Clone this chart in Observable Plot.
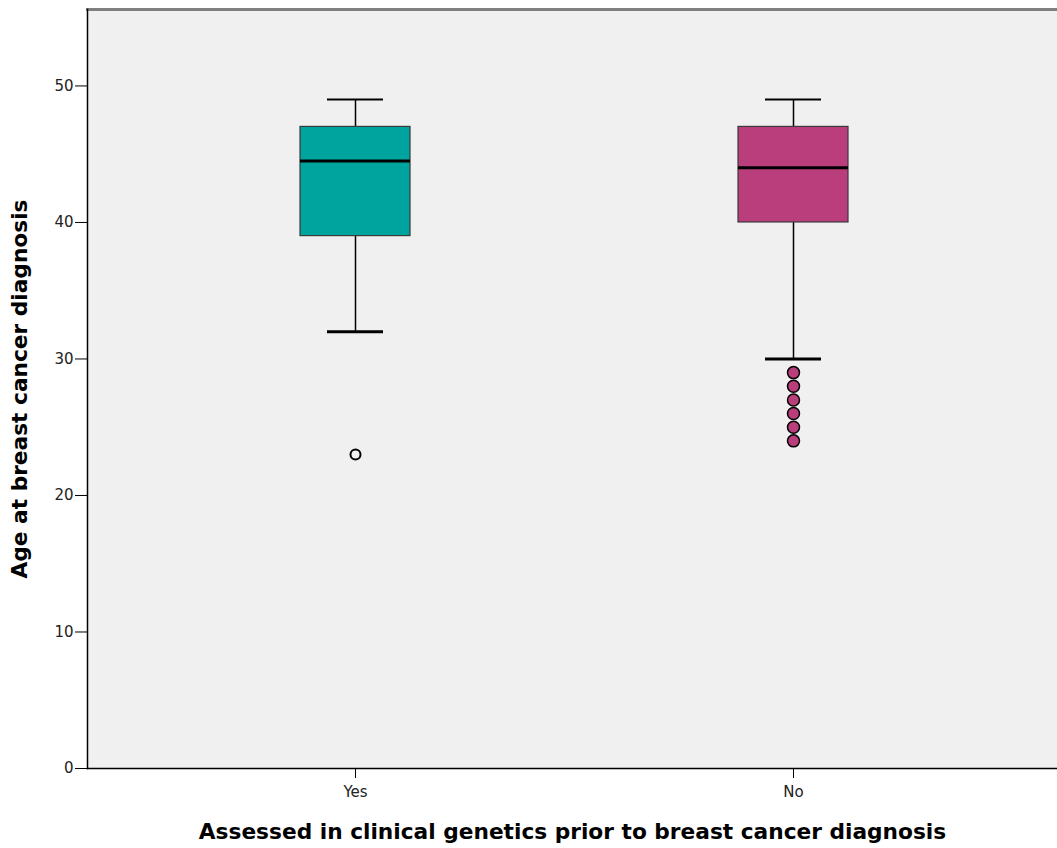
<!DOCTYPE html>
<html>
<head>
<meta charset="utf-8">
<script src="https://cdn.jsdelivr.net/npm/d3@7"></script>
<script src="https://cdn.jsdelivr.net/npm/@observablehq/plot@0.6"></script>
<style>
  html, body { margin: 0; padding: 0; background: #ffffff; }
  #chart svg { display: block; }
</style>
</head>
<body>
<div id="chart"></div>
<script>
// ---- data ----
const groups = ["Yes", "No"];
const q1 = [39, 40];
const median = [44.5, 44];
const q3 = [47, 47];
const whiskerLow = [32, 30];
const whiskerHigh = [49, 49];
const outlierGroup = ["Yes", "No", "No", "No", "No", "No", "No"];
const outlierAge = [23, 29, 28, 27, 26, 25, 24];
const boxColors = ["#00A49F", "#BA3E7C"];
const yTicks = [0, 10, 20, 30, 40, 50];
const xTitle = "Assessed in clinical genetics prior to breast cancer diagnosis";
const yTitle = "Age at breast cancer diagnosis";

const boxes = groups.map((g, i) => ({
  group: g, q1: q1[i], median: median[i], q3: q3[i],
  lo: whiskerLow[i], hi: whiskerHigh[i], color: boxColors[i]
}));
const outliers = outlierGroup.map((g, i) => ({ group: g, age: outlierAge[i] }));

const font = "'DejaVu Sans', sans-serif";

const chart = Plot.plot({
  width: 1057,
  height: 848,
  marginLeft: 87,
  marginRight: 0,
  marginTop: 9,
  marginBottom: 80,
  style: { fontFamily: font, fontSize: "15px", background: "#ffffff", color: "#000" },
  x: { type: "band", domain: groups, paddingInner: 0.75, paddingOuter: 0.48, align: 0.504, label: null },
  y: { domain: [0, 55.6], label: null },
  marks: [
    Plot.frame({ fill: "#F0F0F0", stroke: "none" }),
    Plot.frame({ anchor: "top", stroke: "#7f7f7f", strokeWidth: 3 }),
    Plot.axisY({ ticks: yTicks, tickSize: 12, tickPadding: 2, tickFormat: d3.format("d"), label: null, fontSize: 15, fill: "#222" }),
    Plot.axisX({ tickSize: 10, tickPadding: 8, label: null, fontSize: 15, fill: "#222" }),
    Plot.frame({ anchor: "left", stroke: "#000", strokeWidth: 1.5 }),
    Plot.frame({ anchor: "bottom", stroke: "#000", strokeWidth: 1.5 }),
    // whiskers
    Plot.ruleX(boxes, { x: "group", y1: "q3", y2: "hi", stroke: "#000", strokeWidth: 1.5 }),
    Plot.ruleX(boxes, { x: "group", y1: "lo", y2: "q1", stroke: "#000", strokeWidth: 1.5 }),
    Plot.tickY(boxes, { x: "group", y: "hi", stroke: "#000", strokeWidth: 2, insetLeft: 27, insetRight: 27 }),
    Plot.tickY(boxes, { x: "group", y: "lo", stroke: "#000", strokeWidth: 3, insetLeft: 27, insetRight: 27 }),
    // boxes
    Plot.barY(boxes, { x: "group", y1: "q1", y2: "q3", fill: "color", stroke: "#3a3a3a", strokeWidth: 1.2 }),
    Plot.tickY(boxes, { x: "group", y: "median", stroke: "#000", strokeWidth: 3 }),
    // outliers
    Plot.dot(outliers.filter(d => d.group === "Yes"), { x: "group", y: "age", r: 5, fill: "#F0F0F0", stroke: "#000", strokeWidth: 2 }),
    Plot.dot(outliers.filter(d => d.group === "No"), { x: "group", y: "age", r: 6, fill: boxColors[1], stroke: "#000", strokeWidth: 1.5 }),
    // axis titles
    Plot.text([xTitle], { frameAnchor: "bottom", dy: 70, textAnchor: "middle", fontWeight: "bold", fontSize: 21.7, fill: "#000" }),
    Plot.text([yTitle], { frameAnchor: "left", dx: -67, textAnchor: "middle", rotate: -90, fontWeight: "bold", fontSize: 21.7, fill: "#000" })
  ]
});
document.getElementById("chart").appendChild(chart);
</script>
</body>
</html>
